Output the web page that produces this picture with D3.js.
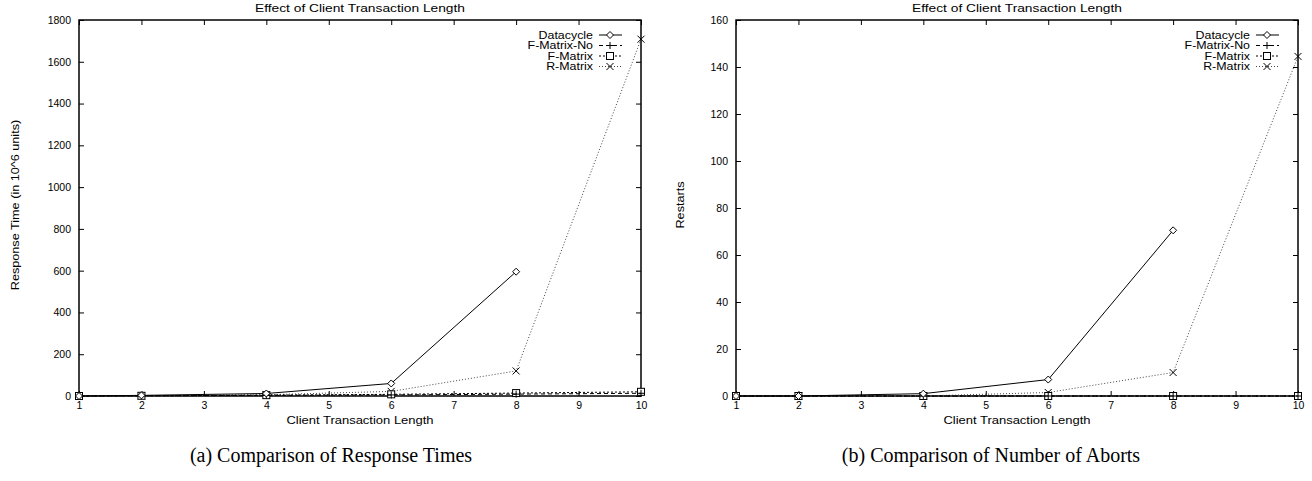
<!DOCTYPE html>
<html>
<head>
<meta charset="utf-8">
<script src="https://cdn.jsdelivr.net/npm/d3@7"></script>
<style>
  body { margin: 0; background: #fff; }
  svg { display: block; }
  .axis text { font-family: "Liberation Sans", Arial, sans-serif; font-size: 10.5px; fill: #000; }
  .lbl { font-family: "Liberation Sans", Arial, sans-serif; font-size: 11px; fill: #000; }
  .key { font-family: "Liberation Sans", Arial, sans-serif; font-size: 10.5px; fill: #000; }
  .caption { font-family: "Liberation Serif", "DejaVu Serif", serif; font-size: 20px; fill: #000; }
</style>
</head>
<body>
<div id="chart"></div>
<script>
'use strict';

// x positions (client transaction length)
const lengths = [1, 2, 4, 6, 8, 10];
const xTicks = [1, 2, 3, 4, 5, 6, 7, 8, 9, 10];

const seriesNames = ['Datacycle', 'F-Matrix-No', 'F-Matrix', 'R-Matrix'];

// (a) response time, 10^6 units
const respDatacycle = [0, 3, 12, 60, 595];
const respFMatrixNo = [0, 1, 3, 5, 9, 13];
const respFMatrix = [0, 1, 4, 8, 14, 20];
const respRMatrix = [0, 1, 6, 22, 120, 1708];
const respTicks = [0, 200, 400, 600, 800, 1000, 1200, 1400, 1600, 1800];

// (b) restarts
const abortDatacycle = [0, 0, 1, 7, 70.5];
const abortFMatrixNo = [0, 0, 0, 0, 0, 0];
const abortFMatrix = [0, 0, 0, 0, 0, 0];
const abortRMatrix = [0, 0, 0, 1.5, 10, 144.5];
const abortTicks = [0, 20, 40, 60, 80, 100, 120, 140, 160];

const styles = {
    'Datacycle':   { dash: null,  colour: '#000', marker: 'diamond' },
    'F-Matrix-No': { dash: '4,3', colour: '#000', marker: 'plus' },
    'F-Matrix':    { dash: '2,2', colour: '#000', marker: 'square' },
    'R-Matrix':    { dash: '1,2', colour: '#444', marker: 'cross' }
};

const svg = d3.select('#chart').append('svg')
    .attr('width', 1312)
    .attr('height', 481);

// gnuplot's text comes out a bit wider than Liberation Sans
function stretch(sel, k = 1.2) {
    let w = sel.node().getComputedTextLength();
    sel.attr('textLength', w * k).attr('lengthAdjust', 'spacingAndGlyphs');
    return sel;
}

function drawMarker(g, type, x, y) {
    let s = 3.5;
    if (type === 'diamond') {
        g.append('path')
            .attr('d', `M${x},${y - s}L${x + s},${y}L${x},${y + s}L${x - s},${y}Z`)
            .attr('fill', '#fff').attr('stroke', '#000').attr('stroke-width', 1);
    } else if (type === 'plus') {
        g.append('path')
            .attr('d', `M${x - s},${y}H${x + s}M${x},${y - s}V${y + s}`)
            .attr('stroke', '#000').attr('stroke-width', 1);
    } else if (type === 'square') {
        g.append('rect')
            .attr('x', x - s).attr('y', y - s).attr('width', 2 * s).attr('height', 2 * s)
            .attr('fill', '#fff').attr('stroke', '#000').attr('stroke-width', 1);
    } else {
        g.append('path')
            .attr('d', `M${x - s},${y - s}L${x + s},${y + s}M${x - s},${y + s}L${x + s},${y - s}`)
            .attr('stroke', '#000').attr('stroke-width', 1);
    }
}

function drawPanel(opts) {
    const left = opts.left, right = opts.left + 562, top = 20, bottom = 396;

    const x = d3.scaleLinear().domain([1, 10]).range([left, right]);
    const y = d3.scaleLinear().domain([0, opts.yTicks[opts.yTicks.length - 1]]).range([bottom, top]);

    const g = svg.append('g');

    // ticks on all four sides, pointing inward
    g.append('g').attr('class', 'axis')
        .attr('transform', `translate(0,${bottom})`)
        .call(d3.axisBottom(x).tickValues(xTicks).tickSize(-5).tickPadding(6).tickFormat(d3.format('d')))
        .call(a => a.select('.domain').remove());
    g.append('g').attr('class', 'axis')
        .attr('transform', `translate(0,${top})`)
        .call(d3.axisTop(x).tickValues(xTicks).tickSize(-5).tickFormat(''))
        .call(a => a.select('.domain').remove());
    g.append('g').attr('class', 'axis')
        .attr('transform', `translate(${left},0)`)
        .call(d3.axisLeft(y).tickValues(opts.yTicks).tickSize(-5).tickPadding(8).tickFormat(d3.format('d')))
        .call(a => a.select('.domain').remove());
    g.append('g').attr('class', 'axis')
        .attr('transform', `translate(${right},0)`)
        .call(d3.axisRight(y).tickValues(opts.yTicks).tickSize(-5).tickFormat(''))
        .call(a => a.select('.domain').remove());
    g.selectAll('.tick line').attr('stroke', '#000');

    g.append('rect')
        .attr('x', left).attr('y', top)
        .attr('width', right - left).attr('height', bottom - top)
        .attr('fill', 'none').attr('stroke', '#000').attr('stroke-width', 1.5);

    // series, drawn bottom-up so the solid line sits on top
    const line = d3.line().x(d => x(d[0])).y(d => y(d[1]));
    seriesNames.slice().reverse().forEach(name => {
        const vals = opts.series[name];
        const pts = vals.map((v, i) => [lengths[i], v]);
        const st = styles[name];
        g.append('path')
            .attr('d', line(pts))
            .attr('fill', 'none')
            .attr('stroke', st.colour)
            .attr('stroke-width', 1)
            .attr('stroke-dasharray', st.dash);
        pts.forEach(p => drawMarker(g, st.marker, x(p[0]), y(p[1])));
    });

    // legend
    seriesNames.forEach((name, i) => {
        const ly = 35 + i * 10.5;
        const st = styles[name];
        stretch(g.append('text').attr('class', 'key')
            .attr('x', right - 48).attr('y', ly).attr('dy', '0.35em')
            .attr('text-anchor', 'end').text(name), 1.18);
        g.append('line')
            .attr('x1', right - 42).attr('x2', right - 19)
            .attr('y1', ly).attr('y2', ly)
            .attr('stroke', st.colour).attr('stroke-width', 1)
            .attr('stroke-dasharray', st.dash);
        drawMarker(g, st.marker, right - 31, ly);
    });

    // titles
    stretch(g.append('text').attr('class', 'lbl')
        .attr('x', (left + right) / 2).attr('y', 12)
        .attr('text-anchor', 'middle').text('Effect of Client Transaction Length'), 1.25);
    stretch(g.append('text').attr('class', 'lbl')
        .attr('x', (left + right) / 2).attr('y', 424)
        .attr('text-anchor', 'middle').text('Client Transaction Length'), 1.18);
    stretch(g.append('text').attr('class', 'lbl')
        .attr('transform', `translate(${opts.yLabelX},${(top + bottom) / 2 - 3}) rotate(-90)`)
        .attr('text-anchor', 'middle').text(opts.yLabel), 1.15);
    g.append('text').attr('class', 'caption')
        .attr('x', opts.captionX).attr('y', 462)
        .attr('text-anchor', 'middle').text(opts.caption);
}

drawPanel({
    left: 79,
    yTicks: respTicks,
    yLabel: 'Response Time (in 10^6 units)',
    yLabelX: 19,
    caption: '(a) Comparison of Response Times',
    captionX: 331,
    series: {
        'Datacycle': respDatacycle,
        'F-Matrix-No': respFMatrixNo,
        'F-Matrix': respFMatrix,
        'R-Matrix': respRMatrix
    }
});

drawPanel({
    left: 736,
    yTicks: abortTicks,
    yLabel: 'Restarts',
    yLabelX: 684,
    caption: '(b) Comparison of Number of Aborts',
    captionX: 991,
    series: {
        'Datacycle': abortDatacycle,
        'F-Matrix-No': abortFMatrixNo,
        'F-Matrix': abortFMatrix,
        'R-Matrix': abortRMatrix
    }
});
</script>
</body>
</html>
